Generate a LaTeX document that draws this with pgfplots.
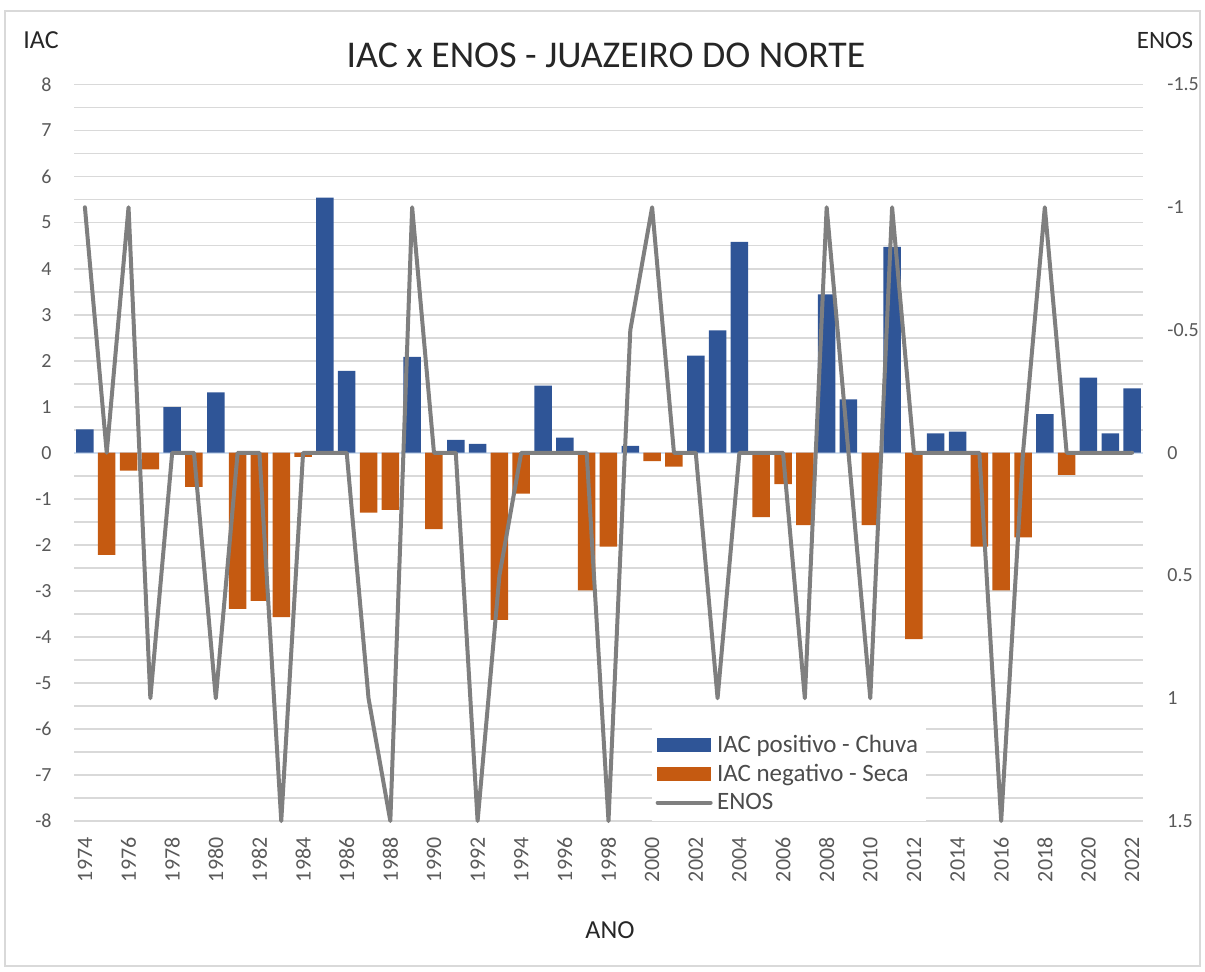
\documentclass[border=0pt]{standalone}
\usepackage{fontspec}
\setmainfont{Carlito}
\usepackage{pgfplots}
\pgfplotsset{compat=1.18}
\definecolor{iacblue}{HTML}{2F5597}
\definecolor{iacorange}{HTML}{C55A11}
\definecolor{enosgray}{HTML}{7F7F7F}
\definecolor{gridgray}{HTML}{D9D9D9}
\definecolor{ticktext}{HTML}{595959}
\definecolor{zeroline}{HTML}{D0DEEF}
\begin{document}
\begin{tikzpicture}[x=1pt,y=1pt]
\path (0,0) rectangle (602.5,485.5);
\draw[gridgray, line width=0.75pt] (2.5,2.5) rectangle (600,480);
\node[font=\fontsize{18.9}{22}\selectfont, text=black!85] at (303,458) {IAC x ENOS - JUAZEIRO DO NORTE};
\node[font=\fontsize{13}{15}\selectfont, text=black!85] at (20.5,465.5) {IAC};
\node[font=\fontsize{12.5}{15}\selectfont, text=black!85] at (582.5,465.5) {ENOS};
\node[font=\fontsize{13}{15}\selectfont, text=black!85] at (305,20.5) {ANO};

\begin{axis}[
  at={(37pt,75pt)}, anchor=south west, scale only axis,
  width=534.5pt, height=368.25pt,
  xmin=1973.5, xmax=2022.5, ymin=-8, ymax=8,
  axis line style={draw=none}, major tick length=0pt, minor tick length=0pt,
  ytick={-8,-7,...,8},
  yticklabels={-8,-7,-6,-5,-4,-3,-2,-1,0,1,2,3,4,5,6,7,8},
  minor ytick={-7.5,-6.5,...,7.5},
  ymajorgrids, yminorgrids,
  grid style={gridgray, line width=0.9pt},
  minor grid style={gridgray, line width=0.9pt},
  xtick={1974,1976,...,2022},
  xticklabels={1974,1976,1978,1980,1982,1984,1986,1988,1990,1992,1994,1996,1998,2000,2002,2004,2006,2008,2010,2012,2014,2016,2018,2020,2022},
  tick label style={font=\fontsize{10}{12}\selectfont, text=ticktext},
  xticklabel style={rotate=90, anchor=east, inner sep=0pt, font=\fontsize{11}{13}\selectfont},
  xticklabel shift=8pt,
  yticklabel style={anchor=east, inner sep=0pt},
  yticklabel shift=11pt,
]
\draw[zeroline, line width=1pt] (axis cs:1973.5,0) -- (axis cs:2022.5,0);
\addplot[ybar, bar width=8.75pt, bar shift=0pt, fill=iacblue, draw=none] coordinates {
(1974,0.51) (1978,0.99) (1980,1.31) (1985,5.54) (1986,1.78) (1989,2.08)
(1991,0.28) (1992,0.19) (1995,1.46) (1996,0.33) (1999,0.15) (2002,2.11)
(2003,2.66) (2004,4.58) (2008,3.44) (2009,1.16) (2011,4.47) (2013,0.42)
(2014,0.46) (2018,0.84) (2020,1.63) (2021,0.42) (2022,1.40)
};
\addplot[ybar, bar width=8.75pt, bar shift=0pt, fill=iacorange, draw=none] coordinates {
(1975,-2.22) (1976,-0.39) (1977,-0.36) (1979,-0.74) (1981,-3.39) (1982,-3.22)
(1983,-3.57) (1984,-0.09) (1987,-1.30) (1988,-1.24) (1990,-1.66) (1993,-3.63)
(1994,-0.89) (1997,-2.99) (1998,-2.04) (2000,-0.18) (2001,-0.30) (2005,-1.40)
(2006,-0.68) (2007,-1.57) (2010,-1.57) (2012,-4.05) (2015,-2.04) (2016,-2.99)
(2017,-1.84) (2019,-0.48)
};
\end{axis}

\begin{axis}[
  at={(37pt,75pt)}, anchor=south west, scale only axis,
  width=534.5pt, height=368.25pt,
  xmin=1973.5, xmax=2022.5, ymin=-1.5, ymax=1.5, y dir=reverse,
  axis x line=none, axis y line*=right, axis line style={draw=none},
  major tick length=0pt,
  ytick={-1.5,-1,-0.5,0,0.5,1,1.5},
  yticklabels={-1.5,-1,-0.5,0,0.5,1,1.5},
  tick label style={font=\fontsize{10}{12}\selectfont, text=ticktext},
  yticklabel style={anchor=west, inner sep=0pt},
  yticklabel shift=12pt,
  clip=false,
  legend cell align=left,
  legend style={at={(0.540,0.0)}, anchor=south west, fill=white, draw=none,
    font=\fontsize{12.5}{14}\selectfont, text=black!70, row sep=0pt,
    inner sep=2pt, nodes={inner sep=2.2pt}},
]
\addlegendimage{legend image code/.code={\fill[iacblue] (0pt,-3.2pt) rectangle (26.5pt,3.2pt);}}
\addlegendentry{IAC positivo - Chuva}
\addlegendimage{legend image code/.code={\fill[iacorange] (0pt,-3.2pt) rectangle (26.5pt,3.2pt);}}
\addlegendentry{IAC negativo - Seca}
\addplot[enosgray, line width=2pt, line join=round, line cap=round,
  legend image code/.code={\draw[enosgray, line width=2pt] (0pt,0pt) -- (26.5pt,0pt);}] coordinates {
(1974,-1) (1975,0) (1976,-1) (1977,1) (1978,0) (1979,0) (1980,1) (1981,0)
(1982,0) (1983,1.5) (1984,0) (1985,0) (1986,0) (1987,1) (1988,1.5) (1989,-1)
(1990,0) (1991,0) (1992,1.5) (1993,0.5) (1994,0) (1995,0) (1996,0) (1997,0)
(1998,1.5) (1999,-0.5) (2000,-1) (2001,0) (2002,0) (2003,1) (2004,0) (2005,0)
(2006,0) (2007,1) (2008,-1) (2009,0) (2010,1) (2011,-1) (2012,0) (2013,0)
(2014,0) (2015,0) (2016,1.5) (2017,0) (2018,-1) (2019,0) (2020,0) (2021,0)
(2022,0)
};
\addlegendentry{ENOS}
\end{axis}
\end{tikzpicture}
\end{document}
